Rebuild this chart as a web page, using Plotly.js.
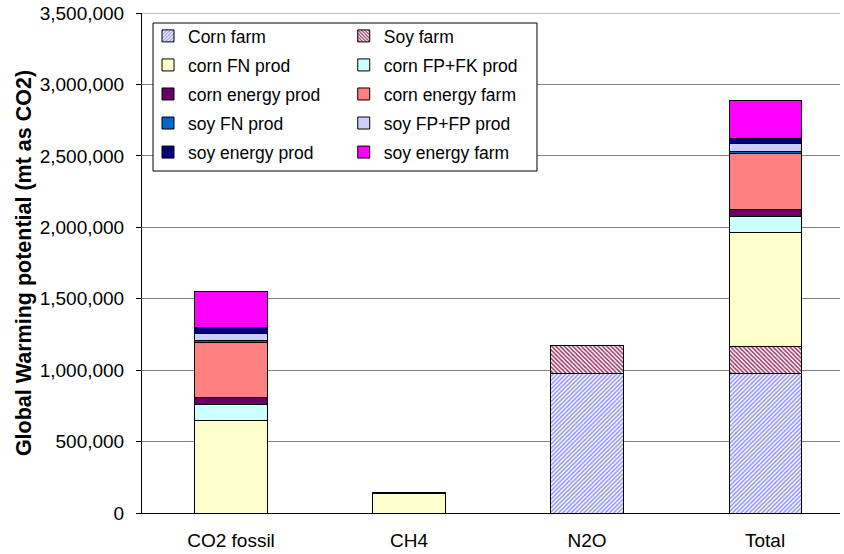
<!DOCTYPE html>
<html>
<head>
<meta charset="utf-8">
<script src="https://cdn.plot.ly/plotly-3.0.1.min.js"></script>
<style>html,body{margin:0;padding:0;background:#fff;}#chart{width:844px;height:554px;}</style>
</head>
<body>
<div id="chart"></div>
<script>
var categories = ['CO2 fossil', 'CH4', 'N2O', 'Total'];
var cornFarm       = [0, 0, 978000, 978000];
var soyFarm        = [0, 0, 193000, 191000];
var cornFNProd     = [651000, 136000, 0, 793000];
var cornFPFKProd   = [107000, 0, 0, 112000];
var cornEnergyProd = [52000, 0, 0, 52000];
var cornEnergyFarm = [382000, 0, 0, 392000];
var soyFNProd      = [15000, 6000, 5000, 14000];
var soyFPFPProd    = [53000, 0, 0, 56000];
var soyEnergyProd  = [42000, 0, 0, 37000];
var soyEnergyFarm  = [250000, 0, 0, 264000];

var FONT = 'Arial, "Liberation Sans", sans-serif';
var lineStyle = {color: '#000000', width: 1};

function mk(name, vals, color, legend, pattern) {
  var m = {color: color, line: lineStyle};
  if (pattern) m.pattern = pattern;
  return {
    type: 'bar', name: name, x: categories, y: vals, width: 0.405,
    marker: m, legend: legend, legendgroup: name,
    hoverinfo: 'name+y'
  };
}

var traces = [
  mk('Corn farm', cornFarm, '#ffffff', 'legend', {shape: '/', fgcolor: '#9090ff', bgcolor: '#ffffff', size: 3, solidity: 0.5}),
  mk('Soy farm', soyFarm, '#ffffff', 'legend2', {shape: '\\', fgcolor: '#993366', bgcolor: '#ffffff', size: 3, solidity: 0.5}),
  mk('corn FN prod', cornFNProd, '#ffffcc', 'legend'),
  mk('corn FP+FK prod', cornFPFKProd, '#ccffff', 'legend2'),
  mk('corn energy prod', cornEnergyProd, '#660066', 'legend'),
  mk('corn energy farm', cornEnergyFarm, '#ff8080', 'legend2'),
  mk('soy FN prod', soyFNProd, '#0066cc', 'legend'),
  mk('soy FP+FP prod', soyFPFPProd, '#ccccff', 'legend2'),
  mk('soy energy prod', soyEnergyProd, '#000080', 'legend'),
  mk('soy energy farm', soyEnergyFarm, '#ff00ff', 'legend2')
];

var legBase = {
  bgcolor: 'rgba(0,0,0,0)', borderwidth: 0,
  font: {family: FONT, size: 17.5, color: '#000'},
  traceorder: 'grouped', tracegroupgap: 3.3,
  xanchor: 'left', yanchor: 'top', y: 0.99
};

var layout = {
  width: 844, height: 554,
  margin: {l: 142, r: 4, t: 13, b: 41, pad: 0},
  paper_bgcolor: '#ffffff', plot_bgcolor: '#ffffff',
  font: {family: FONT, size: 18, color: '#000'},
  barmode: 'stack',
  showlegend: true,
  legend: Object.assign({}, legBase, {x: 0.0086}),
  legend2: Object.assign({}, legBase, {x: 0.289}),
  xaxis: {
    type: 'category', range: [-0.5, 3.421],
    showline: true, linecolor: '#000', linewidth: 1,
    ticks: '', showgrid: false, zeroline: false,
    ticklabelstandoff: 10,
    tickfont: {family: FONT, size: 19, color: '#000'}
  },
  yaxis: {
    range: [0, 3500000], dtick: 500000, tick0: 0, tickformat: ',d',
    showline: true, linecolor: '#000', linewidth: 1,
    ticks: 'outside', ticklen: 5, tickcolor: '#000',
    ticklabelstandoff: 8,
    showgrid: true, gridcolor: '#808080', gridwidth: 1, zeroline: false,
    tickfont: {family: FONT, size: 19, color: '#000'},
    title: {text: 'Global Warming potential (mt as CO2)', standoff: 2,
            font: {family: FONT, size: 21.5, weight: 'bold', color: '#000'}}
  },
  shapes: [{
    type: 'line', xref: 'paper', yref: 'y', x0: 0, x1: 1, y0: 3500000, y1: 3500000,
    line: {color: '#808080', width: 1}, layer: 'below'
  }, {
    type: 'rect', xref: 'paper', yref: 'paper',
    x0: 0.0158, x1: 0.5659, y0: 0.684, y1: 0.98,
    line: {color: '#000', width: 1}, fillcolor: '#ffffff', layer: 'above'
  }]
};

Plotly.newPlot('chart', traces, layout, {displayModeBar: false, staticPlot: true});
</script>
</body>
</html>
